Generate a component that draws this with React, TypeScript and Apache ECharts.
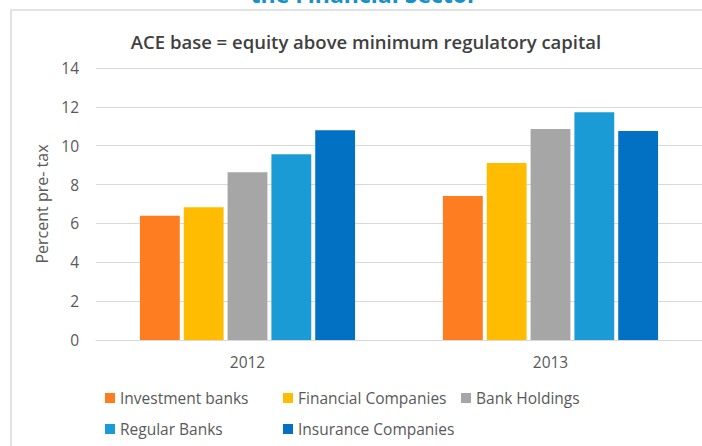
import React, { useEffect, useRef } from "react";
import * as echarts from "echarts";

const categories = ["2012", "2013"];
const seriesNames = [
  "Investment banks",
  "Financial Companies",
  "Bank Holdings",
  "Regular Banks",
  "Insurance Companies",
];
const investmentBanks = [6.4, 7.41];
const financialCompanies = [6.83, 9.11];
const bankHoldings = [8.63, 10.86];
const regularBanks = [9.56, 11.72];
const insuranceCompanies = [10.79, 10.76];
const colors = ["#FD7D20", "#FFBC00", "#A6A6A6", "#1B9BD6", "#0270C3"];

const FONT = "'Open Sans', sans-serif";
const TXT = "#595959";

export default function App() {
  const ref = useRef<HTMLDivElement>(null);
  useEffect(() => {
    if (!ref.current) return;
    const chart = echarts.init(ref.current, undefined, { renderer: "svg" });
    const values = [investmentBanks, financialCompanies, bankHoldings, regularBanks, insuranceCompanies];
    const legendCommon = {
      orient: "vertical" as const,
      top: 390,
      padding: 0,
      itemWidth: 10,
      itemHeight: 10,
      itemGap: 15,
      icon: "rect",
      textStyle: { fontFamily: FONT, fontSize: 15.5, color: TXT, lineHeight: 16 },
    };
    chart.setOption({
      animation: false,
      color: colors,
      graphic: [
        {
          type: "rect",
          shape: { x: 11, y: 10, width: 720, height: 460 },
          style: { fill: "none", stroke: "#D9D9D9", lineWidth: 1.5 },
          z: -10,
          silent: true,
        },
        {
          type: "text",
          x: 364,
          y: -6,
          style: {
            text: "the Financial Sector",
            fontFamily: FONT,
            fontSize: 23,
            fontWeight: "bold",
            fill: "#1591CB",
            textAlign: "center",
            textVerticalAlign: "middle",
          },
        },
        {
          type: "text",
          x: 366,
          y: 41,
          style: {
            text: "ACE base = equity above minimum regulatory capital",
            fontFamily: FONT,
            fontSize: 18.5,
            fontWeight: 600,
            fill: "#404040",
            textAlign: "center",
            textVerticalAlign: "middle",
          },
        },
      ],
      legend: [
        { ...legendCommon, left: 105, data: [seriesNames[0], seriesNames[3]] },
        { ...legendCommon, left: 283, data: [seriesNames[1], seriesNames[4]] },
        { ...legendCommon, left: 461, data: [seriesNames[2]] },
      ],
      grid: { left: 96, right: -1, top: 68, bottom: 106, containLabel: false },
      xAxis: {
        type: "category",
        data: categories,
        axisLine: { lineStyle: { color: "#D9D9D9", width: 1 } },
        axisTick: { show: false },
        axisLabel: { fontFamily: FONT, fontSize: 15.5, color: TXT, margin: 14 },
      },
      yAxis: {
        type: "value",
        min: 0,
        max: 14,
        interval: 2,
        name: "Percent pre- tax",
        nameLocation: "middle",
        nameGap: 45,
        nameTextStyle: { fontFamily: FONT, fontSize: 16, color: TXT },
        axisLine: { show: false },
        axisTick: { show: false },
        axisLabel: { fontFamily: FONT, fontSize: 15.5, color: TXT, margin: 17 },
        splitLine: { lineStyle: { color: "#D9D9D9", width: 1 } },
      },
      series: seriesNames.map((name, i) => ({
        name,
        type: "bar",
        data: values[i],
        barGap: "10%",
        barCategoryGap: "29%",
        itemStyle: { color: colors[i] },
      })),
    });
    return () => chart.dispose();
  }, []);
  return (
    <div
      ref={ref}
      style={{ position: "fixed", left: 0, top: 0, width: 702, height: 446, background: "#fff" }}
    />
  );
}
